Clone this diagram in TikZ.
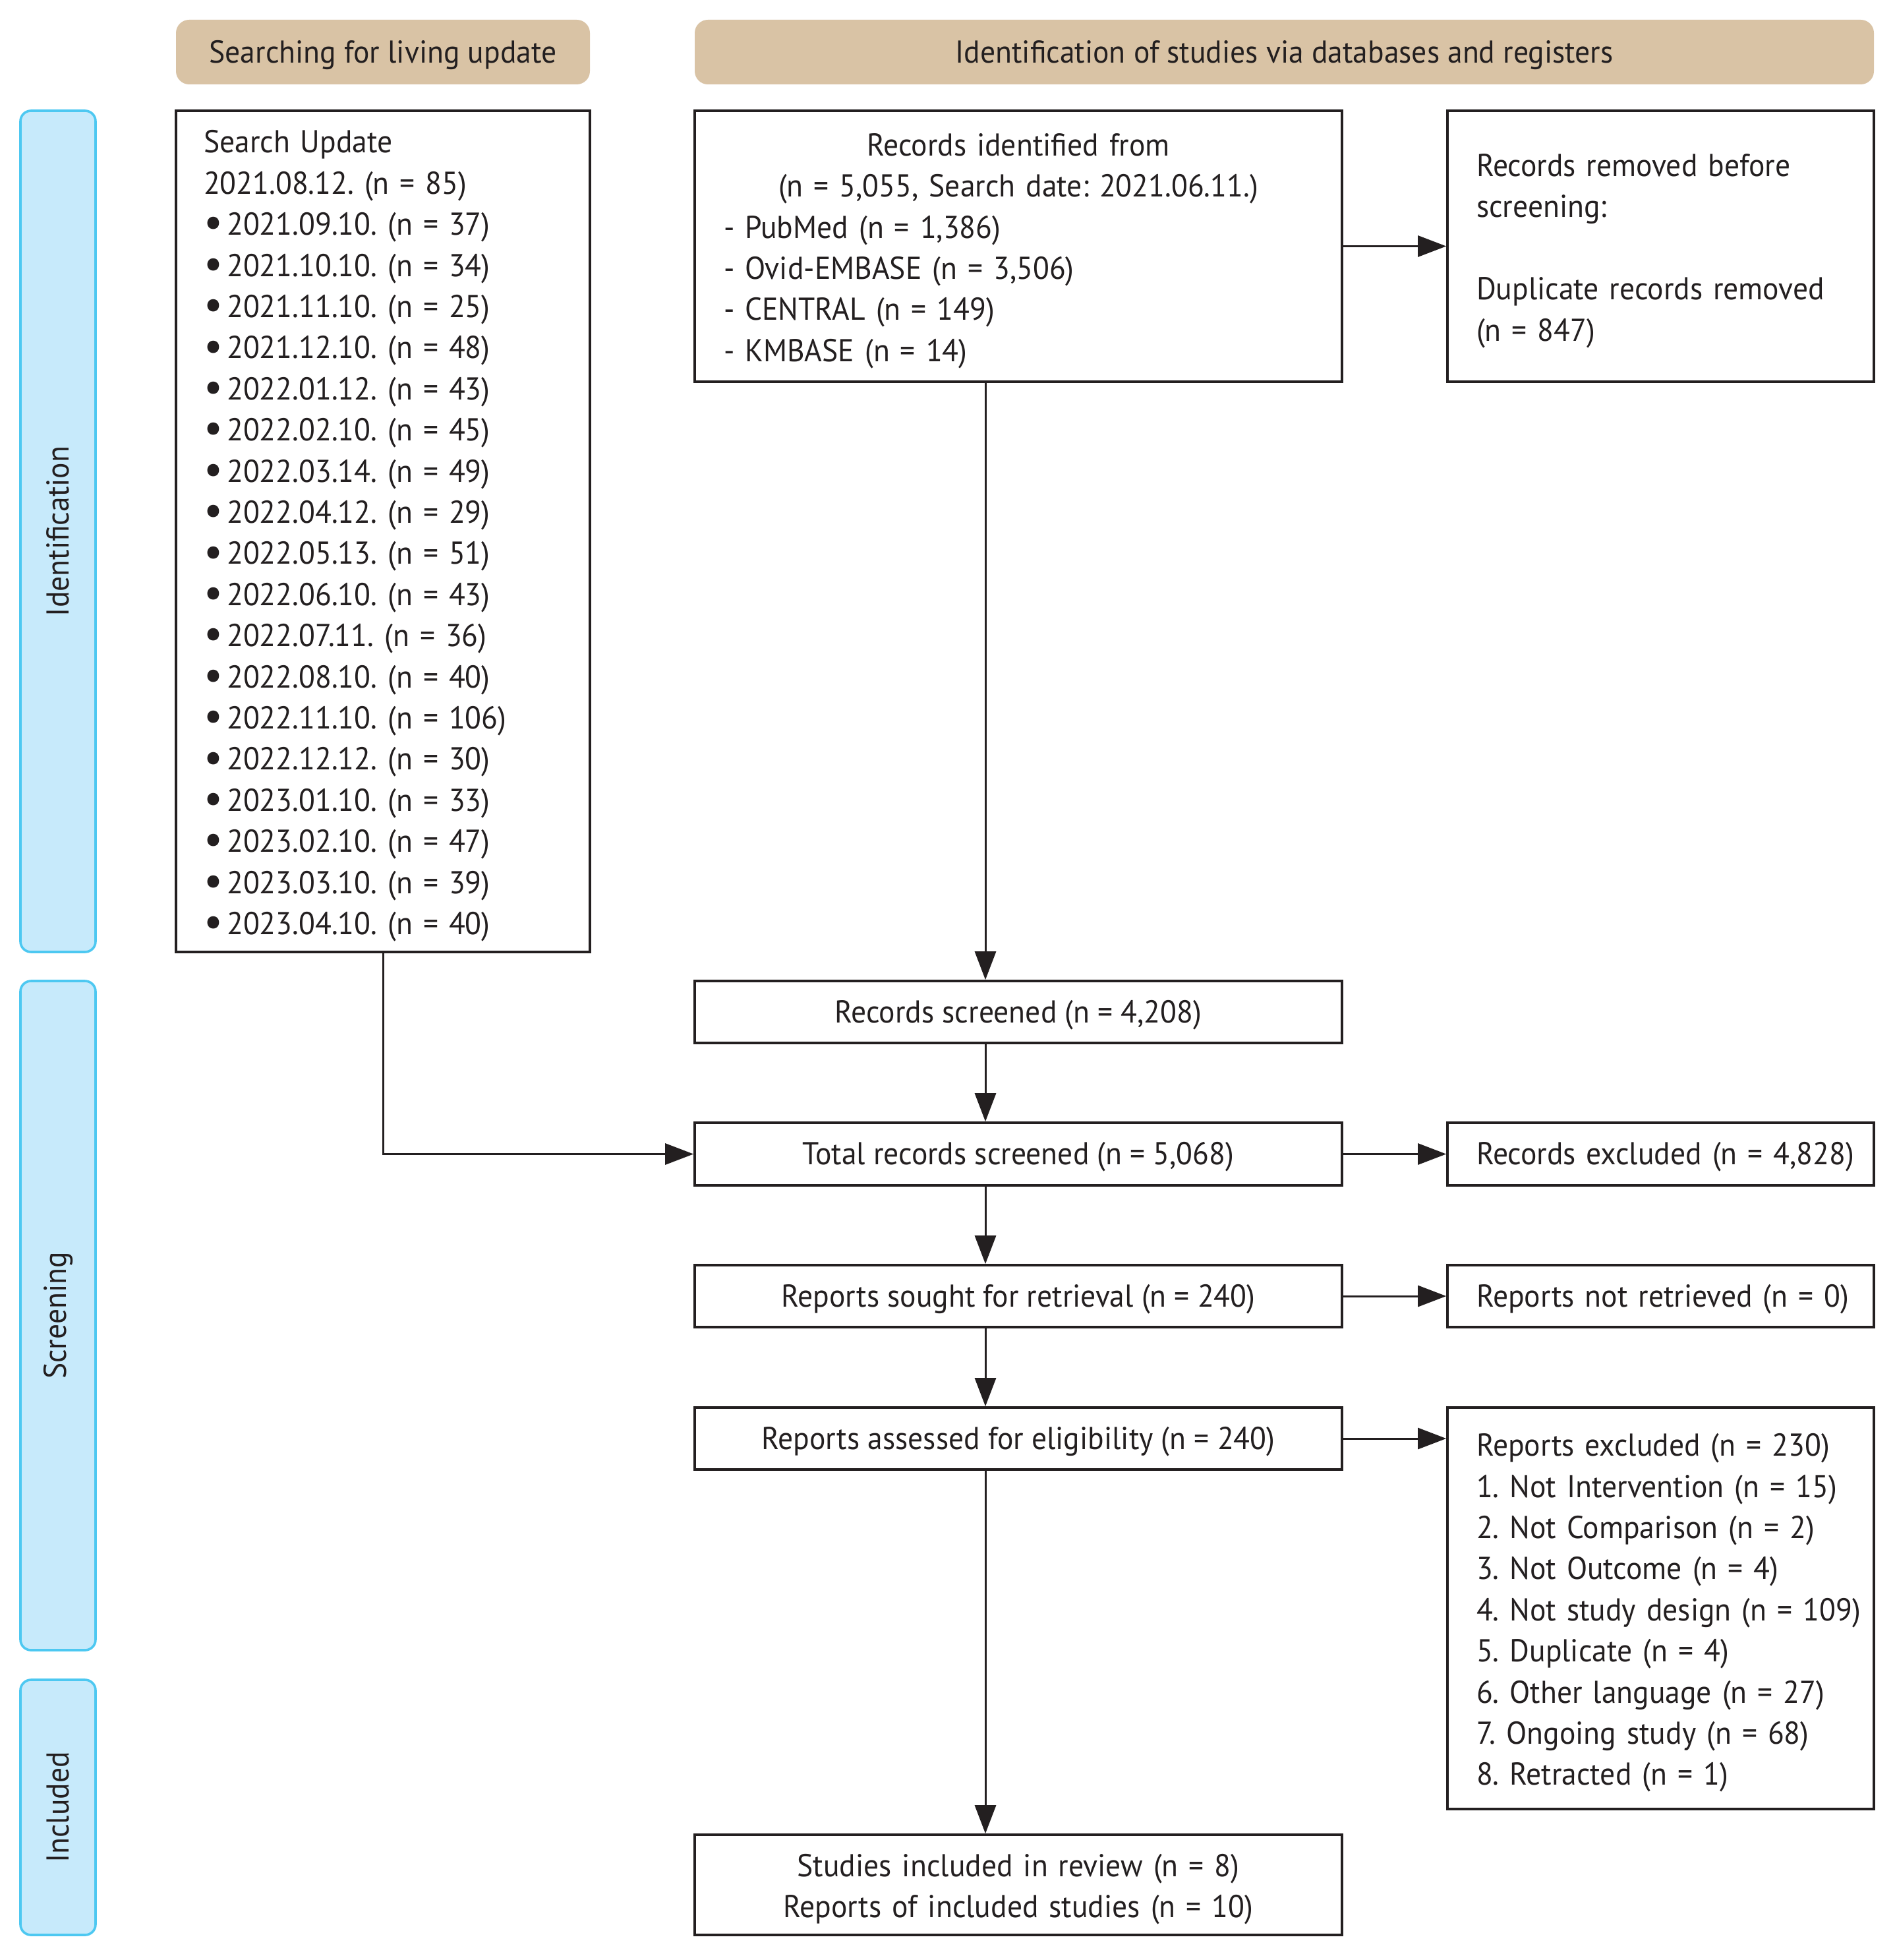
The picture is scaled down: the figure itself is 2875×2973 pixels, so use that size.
\documentclass[tikz,border=0pt]{standalone}
\usepackage{fontspec}
\setmainfont{PT Sans}[FakeStretch=0.95]
\usetikzlibrary{arrows.meta}
\definecolor{tan}{HTML}{D9C3A5}
\definecolor{phasefill}{HTML}{C7EAFB}
\definecolor{phaseline}{HTML}{4DC8F1}
\definecolor{ink}{HTML}{231F20}
\newcommand{\mainsize}{\fontsize{12pt}{15.6pt}\selectfont\frenchspacing}
\newcommand{\bul}{\raisebox{-0.8pt}{\scalebox{1.4}{•}}\hspace{1.6pt}}
\newcommand{\topfix}{\rule{0pt}{12pt}}
\begin{document}
\begin{tikzpicture}[x=0.25pt,y=-0.25pt,
  every node/.style={text=ink, font=\mainsize},
  head/.style={fill=tan, draw=none, rounded corners=5pt, minimum height=24.5pt, inner sep=0pt, text height=9pt, text depth=0.5pt},
  phase/.style={fill=phasefill, draw=phaseline, line width=0.9pt, rounded corners=4pt, minimum height=28.5pt, inner sep=0pt, rotate=90},
  box/.style={draw=ink, line width=0.9pt, fill=white, inner sep=0pt},
  onebox/.style={box, text depth=0.5pt},
  leftbox/.style={box, inner xsep=11pt, align=left},
  arr/.style={draw=ink, line width=0.75pt, -{Triangle[length=10.75pt,width=8pt]}}]

\useasboundingbox (0,0) rectangle (2875,2973);

% headers
\node[head, minimum width=157pt] (h1) at (581,79) {Searching for living update};
\node[head, minimum width=447.25pt] (h2) at (1948.5,79) {Identification of studies via databases and registers};

% phase bars
\node[phase, minimum width=319pt] (pid) at (88,806) {Identification};
\node[phase, minimum width=253.75pt] (psc) at (88,1995.5) {Screening};
\node[phase, minimum width=96.75pt] (pin) at (88,2741.5) {Included};

% search update box
\node[box, minimum width=157pt, minimum height=319pt, text width=136pt, inner xsep=10.5pt, align=left] (search) at (581,806)
{\topfix Search Update\\
2021.08.12. (n = 85)\\
\bul 2021.09.10. (n = 37)\\
\bul 2021.10.10. (n = 34)\\
\bul 2021.11.10. (n = 25)\\
\bul 2021.12.10. (n = 48)\\
\bul 2022.01.12. (n = 43)\\
\bul 2022.02.10. (n = 45)\\
\bul 2022.03.14. (n = 49)\\
\bul 2022.04.12. (n = 29)\\
\bul 2022.05.13. (n = 51)\\
\bul 2022.06.10. (n = 43)\\
\bul 2022.07.11. (n = 36)\\
\bul 2022.08.10. (n = 40)\\
\bul 2022.11.10. (n = 106)\\
\bul 2022.12.12. (n = 30)\\
\bul 2023.01.10. (n = 33)\\
\bul 2023.02.10. (n = 47)\\
\bul 2023.03.10. (n = 39)\\
\bul 2023.04.10. (n = 40)};

% identification column
\node[leftbox, minimum width=245.5pt, minimum height=102.75pt, text width=223.5pt] (ident) at (1545,373.5)
{\centering\topfix Records identified from\\
(n = 5,055, Search date: 2021.06.11.)\par
\raggedright
- PubMed (n = 1,386)\\
- Ovid-EMBASE (n = 3,506)\\
- CENTRAL (n = 149)\\
- KMBASE (n = 14)};

\node[leftbox, minimum width=161.75pt, minimum height=102.75pt, text width=139.75pt] (removed) at (2519.5,373.5)
{\topfix Records removed before\\
screening:\\
\mbox{}\\
\mbox{Duplicate records removed}\\
(n = 847)};

\node[onebox, minimum width=245.5pt, minimum height=23.5pt] (screened) at (1545,1535) {Records screened (n = 4,208)};
\node[onebox, minimum width=245.5pt, minimum height=23.75pt] (total) at (1545,1750.5) {Total records screened (n = 5,068)};
\node[leftbox, text depth=0.5pt, minimum width=161.75pt, minimum height=23.75pt, text width=139.75pt] (excl) at (2519.5,1750.5) {\mbox{Records excluded (n = 4,828)}};
\node[onebox, minimum width=245.5pt, minimum height=23.5pt] (sought) at (1545,1966) {Reports sought for retrieval (n = 240)};
\node[leftbox, text depth=0.5pt, minimum width=161.75pt, minimum height=23.5pt, text width=139.75pt] (notret) at (2519.5,1966) {\mbox{Reports not retrieved (n = 0)}};
\node[onebox, minimum width=245.5pt, minimum height=23.5pt] (assessed) at (1545,2182) {Reports assessed for eligibility (n = 240)};
\node[leftbox, minimum width=161.75pt, minimum height=152.25pt, text width=139.75pt] (repexcl) at (2519.5,2439.5)
{\topfix\mbox{Reports excluded (n = 230)}\\
\mbox{1. Not Intervention (n = 15)}\\
\mbox{2. Not Comparison (n = 2)}\\
\mbox{3. Not Outcome (n = 4)}\\
\mbox{4. Not study design (n = 109)}\\
\mbox{5. Duplicate (n = 4)}\\
\mbox{6. Other language (n = 27)}\\
\mbox{7. Ongoing study (n = 68)}\\
\mbox{8. Retracted (n = 1)}};
\node[box, minimum width=245.5pt, minimum height=38pt, text width=223.5pt, inner xsep=11pt, align=center] (included) at (1545,2859)
{\topfix Studies included in review (n = 8)\\
Reports of included studies (n = 10)};

% connectors
\coordinate (ax) at (1495,0);
\draw[arr] (ident.south -| ax) -- (screened.north -| ax);
\draw[arr] (screened.south -| ax) -- (total.north -| ax);
\draw[arr] (total.south -| ax) -- (sought.north -| ax);
\draw[arr] (sought.south -| ax) -- (assessed.north -| ax);
\draw[arr] (assessed.south -| ax) -- (included.north -| ax);
\draw[arr] (ident.east) -- (removed.west);
\draw[arr] (total.east) -- (excl.west);
\draw[arr] (sought.east) -- (notret.west);
\draw[arr] (assessed.east) -- (assessed.east -| repexcl.west);
\draw[arr] (search.south) |- (total.west);
\end{tikzpicture}
\end{document}
